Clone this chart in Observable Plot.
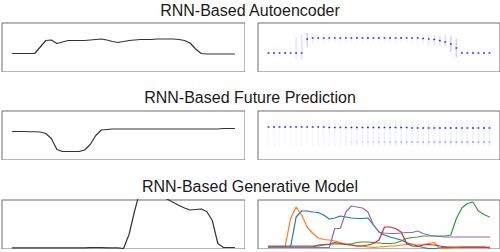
<!DOCTYPE html>
<html><head><meta charset="utf-8">
<script src="https://cdn.jsdelivr.net/npm/d3@7"></script>
<script src="https://cdn.jsdelivr.net/npm/@observablehq/plot@0.6"></script>
<style>
body{margin:0;background:#fff;}
#root{position:relative;width:500px;height:252px;overflow:hidden;font-family:"Liberation Sans",Arial,sans-serif;}
.title{position:absolute;left:0;width:500px;text-align:center;font-size:16px;line-height:16px;color:#1a1a1a;white-space:nowrap;}
</style>
</head><body><div id="root"></div>
<script>
// ---- titles ----
const titles = ["RNN-Based Autoencoder", "RNN-Based Future Prediction", "RNN-Based Generative Model"];

// ---- row 1: autoencoder ----
const aeLine = [38,38,38,38,38,51,64,65,58,61,64,64,64,64,65,66,67,65,62,60,62,64,65,66,66,66,67,67,67,67,66,64,59,47,38,37,37,37,37,37,37];
const aePeak = [38,38,38,38,38,38,38,66,68,68,68,68,68,68,68,68,68,68,68,68,68,68,68,68,68,68,68,68,67,66,65,63,60,56,48,38,38,38,38,38,38];
const aeLo   = [30,30,30,30,30,25,25,50,58,58,58,58,58,58,58,58,58,58,58,58,58,58,58,58,58,58,58,58,56,52,52,52,52,40,30,32,32,32,32,32,32];
const aeHi   = [50,50,50,50,50,70,75,78,78,78,78,78,78,78,78,78,78,78,78,78,78,78,78,78,78,78,78,78,76,74,74,74,74,72,66,44,44,44,44,44,44];
const aeOp   = [.04,.04,.04,.04,.05,.1,.12,.18,.05,.04,.04,.04,.04,.04,.04,.04,.04,.04,.04,.04,.04,.04,.04,.04,.04,.04,.04,.04,.06,.08,.1,.1,.14,.18,.18,.05,.04,.04,.04,.04,.04];

// ---- row 2: future prediction ----
const fpLine = [58,58,58,57.5,57.5,57,54,44,22,18,18,18,18,21,32,50,61,62,63,63,63,63,63,63,63,63,63,63,63,63,63,63,63,63,63,63,63,63,64,64,64];
const fpPeak = [66,66,66,66,66,66,66,66,66,66,66,65,65,65,65,65,65,65,65,65,65,65,65,65,65,65,64,64,64,64,64,64,64,64,64,64,64,64,64,64,64];
const fpLow  = [36,36,36,36,36,36,36,36,36,36,36,36,36,36,36,36,36,36,36,36,36,36,36,36,36,36,36,36,36,36,36,36,36,36,36,36,36,36,36,36,36];
const fpLowOp= [0,0,0,0,0,0,0,0,0,0,0,0,0,0,0,.12,.15,.18,.2,.2,.22,.25,.28,.3,.32,.34,.36,.38,.4,.4,.42,.42,.45,.45,.45,.45,.45,.45,.45,.45,.45];
const fpOp   = [.03,.03,.03,.03,.03,.035,.035,.035,.04,.04,.04,.04,.045,.045,.05,.05,.05,.05,.055,.055,.055,.06,.06,.06,.06,.06,.06,.06,.06,.06,.06,.06,.06,.06,.06,.06,.06,.06,.06,.06,.06];

// ---- row 3: generative model ----
const genLine = [3.4,3.4,3.4,3.4,3.4,3.4,3.4,3.4,3.4,3.4,3.4,3.4,3.4,3.4,3.6,3.6,3.6,3.4,3.4,3.2,2,30,77,118,125,128,126,106,100,94,88,83,79,80,81,76,58,12,4,4,4];
const seriesNames = ["blue","orange","green","red","purple"];
const seriesColors = ["#1f77b4","#ff7f0e","#2ca02c","#d62728","#9467bd"];
const genBlue   = [5,5,5,5,5,65,77,77,75,74,69,61,63,67,65,63,62,62,63,49,35,29,25,22,19,14,10,7,4,2,2,3,5,4,4,4,4,4,4,4,4];
const genOrange = [5,5,5,5,62,85,69,45,32,23,20,19,17,14,10,9,7,7,5,4,5,6,7,7,9,10,11,9,10,12,14,2,2,3,4,5,5,5,5,5,5];
const genGreen  = [7,7,7,7,7,7,7,7,7,7,9,10,11,11,11,11,14,15,15,14,13,12,12,13,17,22,24,25,27,27,27,27,27,29,62,83,92,95,77,70,65];
const genRed    = [5,5,5,5,5,5,5,5,5,9,10,11,14,12,10,9,7,7,9,12,19,45,45,42,35,12,7,6,9,10,9,7,5,5,5,5,5,5,5,5,3];
const genPurple = [4,4,4,4,4,4,4,4,4,4,4,4,42,42,75,87,85,83,75,49,35,33,32,32,33,34,34,37,32,29,27,26,25,25,25,25,25,25,25,25,25];

const root = document.getElementById("root");
const titleBaselines = [2.5, 90, 179];
titles.forEach((t, i) => {
  const d = document.createElement("div");
  d.className = "title";
  d.style.top = titleBaselines[i] + "px";
  d.textContent = t;
  root.append(d);
});

function panel(left, top, w, marks) {
  const svg = Plot.plot({
    width: w, height: 50, margin: 0,
    x: {domain: [0, 40], range: [11, w - 11], axis: null},
    y: {domain: [0, 100], range: [50, 0], axis: null},
    marks: [Plot.frame({stroke: "#6e6e6e", inset: 0.5}), ...marks]
  });
  svg.style.position = "absolute";
  svg.style.left = left + "px";
  svg.style.top = top + "px";
  svg.style.background = "transparent";
  root.append(svg);
}

const idx = d3.range(41);
const lineOpts = {x: (d, i) => i, y: d => d, stroke: "#333", strokeWidth: 1.2, clip: true};

function dotMarks(peak, lo, hi, op) {
  return [
    Plot.ruleX(idx, {x: i => i, y1: i => lo[i], y2: i => hi[i], stroke: "#0000ff", strokeOpacity: i => op[i], strokeWidth: 1.6}),
    Plot.ruleX(idx, {x: i => i, y1: i => peak[i] - 1.4, y2: i => peak[i] + 1.4, stroke: "#2020ff", strokeWidth: 1.8})
  ];
}

// row 1
panel(1, 22, 244, [Plot.line(aeLine, lineOpts)]);
panel(257, 22, 243, dotMarks(aePeak, aeLo, aeHi, aeOp));
// row 2
panel(1, 110, 244, [Plot.line(fpLine, lineOpts)]);
panel(257, 110, 243, [
  Plot.ruleX(idx, {x: i => i, y1: 28, y2: 80, stroke: "#0000ff", strokeOpacity: i => fpOp[i], strokeWidth: 1.6}),
  Plot.ruleX(idx, {x: i => i, y1: i => fpLow[i] - 1.4, y2: i => fpLow[i] + 1.4, stroke: "#2020ff", strokeOpacity: i => fpLowOp[i], strokeWidth: 1.8}),
  Plot.ruleX(idx, {x: i => i, y1: i => fpPeak[i] - 1.4, y2: i => fpPeak[i] + 1.4, stroke: "#2020ff", strokeWidth: 1.8})
]);
// row 3
panel(1, 199, 244, [Plot.line(genLine, lineOpts)]);
const genSeries = [genBlue, genOrange, genGreen, genRed, genPurple];
const genRows = genSeries.flatMap((s, k) => s.map((v, i) => ({t: i, v, s: seriesNames[k]})));
panel(257, 199, 243, [
  Plot.line(genRows, {x: "t", y: "v", z: "s", stroke: d => seriesColors[seriesNames.indexOf(d.s)], strokeWidth: 1.2, clip: true})
]);
</script>
</body></html>
